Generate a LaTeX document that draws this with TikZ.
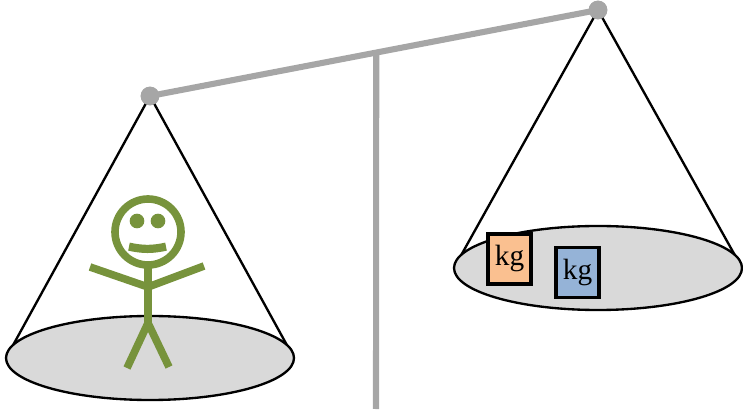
\documentclass[tikz,border=0pt]{standalone}
\usepackage{fontspec}
\setmainfont{Liberation Serif}
\usepackage{tikz}
\usetikzlibrary{shapes.geometric,calc}
\definecolor{beamgray}{HTML}{A6A6A6}
\definecolor{pangray}{HTML}{D9D9D9}
\definecolor{mangreen}{HTML}{77933C}
\definecolor{kgorange}{HTML}{FAC090}
\definecolor{kgblue}{HTML}{95B3D7}
\tikzset{
  pan/.style={ellipse,draw,line width=2pt,fill=pangray,minimum width=8.64cm,minimum height=2.52cm},
  rope/.style={line width=2pt},
  pivot/.style={circle,fill=beamgray,minimum size=0.56cm,inner sep=0pt},
  weight/.style={draw,line width=3.4pt,minimum width=1.3cm,minimum height=1.5cm,inner sep=0pt,font=\fontsize{25}{27}\selectfont},
  stick/.style={mangreen,line width=6.5pt}
}

\begin{document}
\begin{tikzpicture}
\useasboundingbox (0,0) rectangle (22.29,12.27);
% beam ends and pans
\node[pivot] (pivL) at (4.5,9.39) {};
\node[pivot] (pivR) at (17.94,11.97) {};
\coordinate (panLc) at (4.5,1.53);
\coordinate (panRc) at (17.94,4.23);
\draw[rope] (pivL.center) -- ($(panLc)+(-4.32,0)$);
\draw[rope] (pivL.center) -- ($(panLc)+(4.32,0)$);
\draw[rope] (pivR.center) -- ($(panRc)+(-4.32,0)$);
\draw[rope] (pivR.center) -- ($(panRc)+(4.32,0)$);
\node[pan] (panL) at (panLc) {};
\node[pan] (panR) at (panRc) {};
% stand and beam
\coordinate (top) at ($(pivL)!0.505!(pivR)$);
\coordinate (foot) at (11.28,0);
\draw[beamgray,line width=5.2pt] (top) -- (foot);
\draw[beamgray,line width=5.2pt] (pivL.center) -- (pivR.center);
\node[pivot] at (pivL) {};
\node[pivot] at (pivR) {};
% the little man
\draw[stick] (4.44,5.31) circle (0.99);
\fill[mangreen] (4.11,5.64) circle (0.22);
\fill[mangreen] (4.74,5.64) circle (0.22);
\draw[stick,line width=7pt] (3.87,4.87) to[bend right=12] (4.98,4.87);
\draw[stick] (4.44,4.32) -- (4.44,2.58);
\draw[stick] (2.7,4.26) -- (4.44,3.66) -- (6.12,4.29);
\draw[stick] (3.81,1.23) -- (4.44,2.58) -- (5.07,1.26);
% weights
\node[weight,fill=kgorange] (kg1) at (15.285,4.5) {kg};
\node[weight,fill=kgblue] (kg2) at (17.325,4.095) {kg};
\end{tikzpicture}
\end{document}
